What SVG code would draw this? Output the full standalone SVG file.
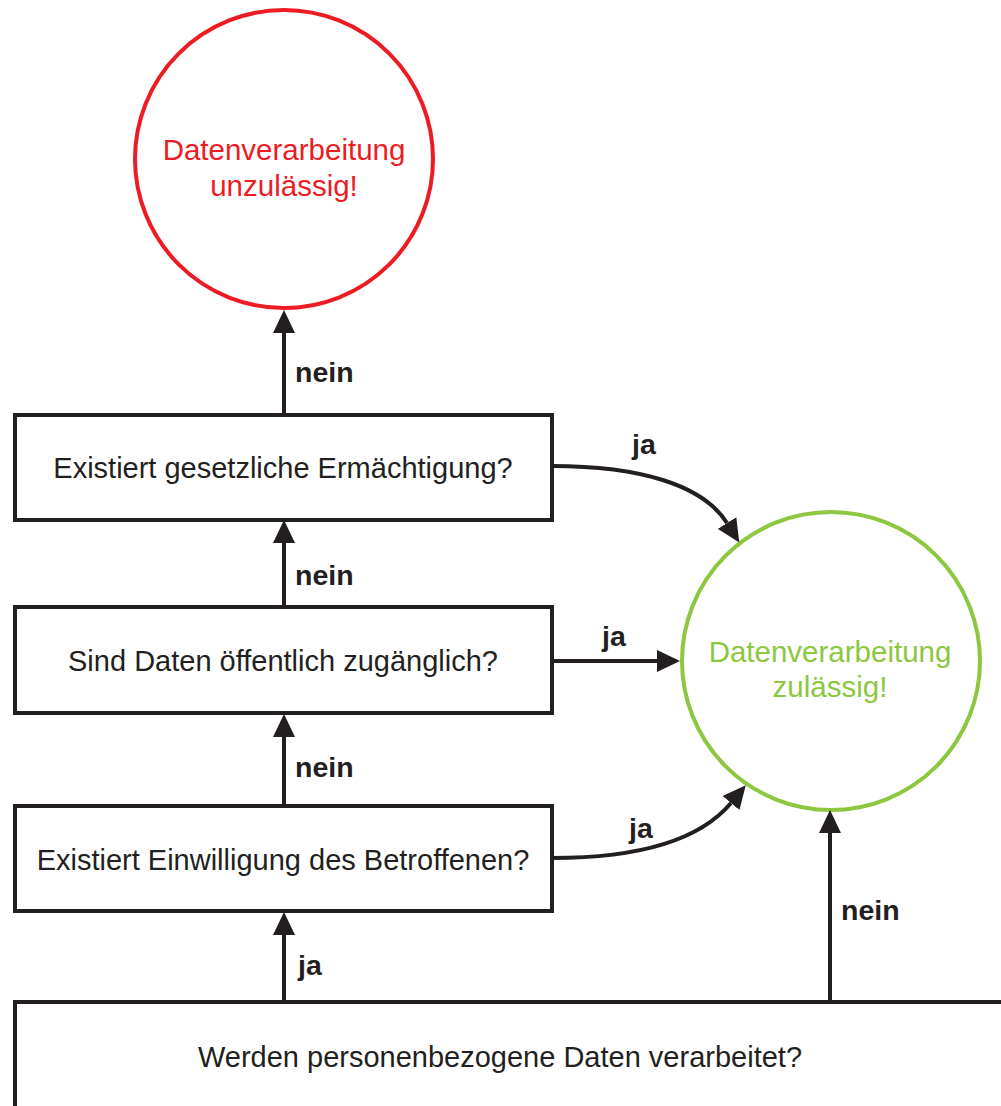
<svg xmlns="http://www.w3.org/2000/svg" width="1001" height="1106" viewBox="0 0 1001 1106">
<style>
.box{fill:#fff;stroke:#231f20;stroke-width:4}
.t{font-family:"Liberation Sans",Arial,sans-serif;font-size:29px;fill:#231f20;text-anchor:middle}
.lbl{font-family:"Liberation Sans",Arial,sans-serif;font-size:28.5px;font-weight:bold;fill:#231f20}
.c{fill:none;stroke:#231f20;stroke-width:4}
.ct{font-family:"Liberation Sans",Arial,sans-serif;font-size:29.5px;text-anchor:middle}
</style>
<defs>
<marker id="ah" markerUnits="userSpaceOnUse" markerWidth="23" markerHeight="22" refX="0" refY="11" orient="auto" viewBox="0 0 23 22">
<path d="M0,0 L23,11 L0,22 z" fill="#231f20"/>
</marker>
</defs>
<g id="node-unzulaessig">
<circle cx="284" cy="159" r="149" fill="#fff" stroke="#ed1c24" stroke-width="4"/>
<text class="ct" x="284" y="160" fill="#ed1c24">Datenverarbeitung</text>
<text class="ct" x="284" y="196" fill="#ed1c24">unzulässig!</text>
</g>
<g id="node-zulaessig">
<circle cx="831" cy="661" r="149" fill="#fff" stroke="#8dc63f" stroke-width="4"/>
<text class="ct" x="830" y="662" fill="#8dc63f">Datenverarbeitung</text>
<text class="ct" x="830" y="697" fill="#8dc63f">zulässig!</text>
</g>
<g id="node-ermaechtigung">
<rect class="box" x="15" y="415" width="537" height="105"/>
<text class="t" x="283" y="478">Existiert gesetzliche Ermächtigung?</text>
</g>
<g id="node-oeffentlich">
<rect class="box" x="15" y="607" width="537" height="106"/>
<text class="t" x="283" y="671">Sind Daten öffentlich zugänglich?</text>
</g>
<g id="node-einwilligung">
<rect class="box" x="15" y="806" width="537" height="105"/>
<text class="t" x="283" y="870">Existiert Einwilligung des Betroffenen?</text>
</g>
<g id="node-personenbezogen">
<rect class="box" x="15" y="1002" width="1000" height="120"/>
<text class="t" x="500" y="1067">Werden personenbezogene Daten verarbeitet?</text>
</g>
<g id="connectors">
<path class="c" d="M284,413 L284,333" marker-end="url(#ah)"/>
<path class="c" d="M284,605 L284,543" marker-end="url(#ah)"/>
<path class="c" d="M284,804 L284,737" marker-end="url(#ah)"/>
<path class="c" d="M284,1000 L284,935" marker-end="url(#ah)"/>
<path class="c" d="M830,1000 L830,833" marker-end="url(#ah)"/>
<path class="c" d="M552,661 L657,661" marker-end="url(#ah)"/>
<path class="c" d="M552,466 C640,466 703,485 727,523" marker-end="url(#ah)"/>
<path class="c" d="M552,858 C640,858 700,840 731,803" marker-end="url(#ah)"/>
<text class="lbl" x="295" y="382">nein</text>
<text class="lbl" x="295" y="585">nein</text>
<text class="lbl" x="295" y="777">nein</text>
<text class="lbl" x="298" y="975">ja</text>
<text class="lbl" x="841" y="920">nein</text>
<text class="lbl" x="632" y="454">ja</text>
<text class="lbl" x="602" y="646">ja</text>
<text class="lbl" x="629" y="838">ja</text>
</g>
</svg>
